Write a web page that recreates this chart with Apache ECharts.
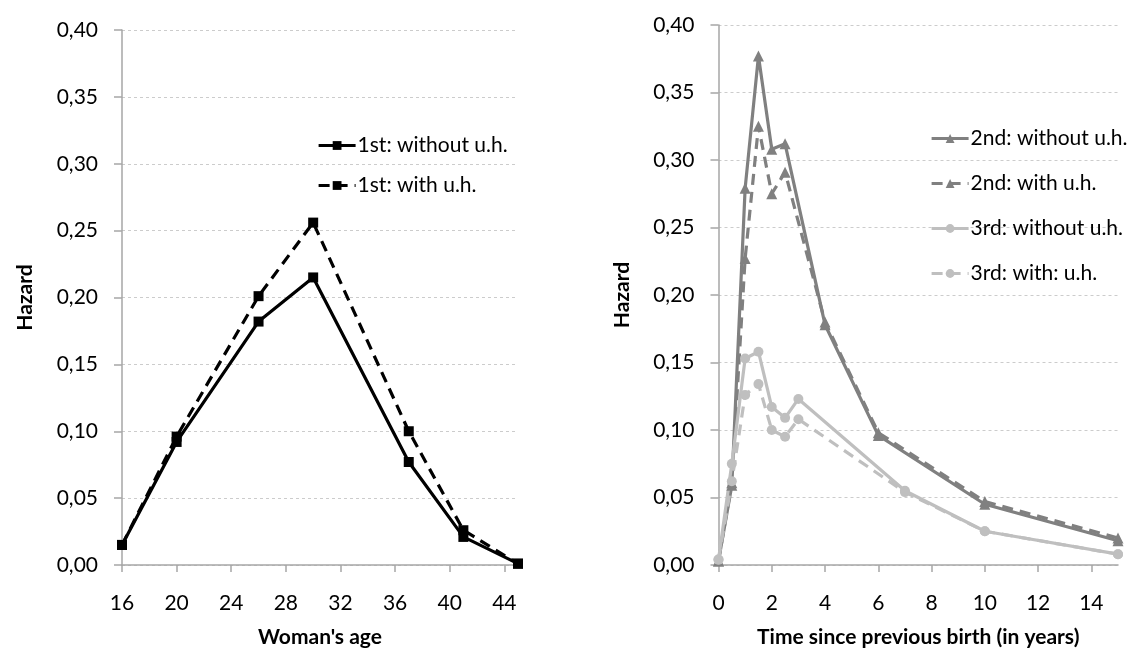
<!DOCTYPE html>
<html>
<head>
<meta charset="utf-8">
<script src="https://cdn.jsdelivr.net/npm/echarts@6/dist/echarts.min.js"></script>
<style>
  html, body { margin: 0; padding: 0; background: #fff; }
  #chart { width: 1133px; height: 653px; }
</style>
</head>
<body>
<div id="chart"></div>
<script>
// left panel: first birth by woman's age
const ageX = [16, 20, 26, 30, 37, 41, 45];
const firstWithout = [0.015, 0.092, 0.182, 0.215, 0.077, 0.021, 0.001];
const firstWith = [0.015, 0.096, 0.201, 0.256, 0.100, 0.026, 0.001];
const ageTicks = [16, 20, 24, 28, 32, 36, 40, 44];

// right panel: higher order births by time since previous birth
const secondX = [0, 0.5, 1, 1.5, 2, 2.5, 4, 6, 10, 15];
const secondWithout = [0.003, 0.059, 0.279, 0.377, 0.308, 0.312, 0.178, 0.096, 0.045, 0.018];
const secondWith = [0.003, 0.061, 0.227, 0.325, 0.275, 0.291, 0.180, 0.098, 0.047, 0.020];
const thirdX = [0, 0.5, 1, 1.5, 2, 2.5, 3, 7, 10, 15];
const thirdWithout = [0.004, 0.075, 0.153, 0.158, 0.117, 0.109, 0.123, 0.055, 0.025, 0.008];
const thirdWith = [0.004, 0.062, 0.126, 0.134, 0.100, 0.095, 0.108, 0.054, 0.025, 0.008];
const timeTicks = [0, 2, 4, 6, 8, 10, 12, 14];

const names = ['1st: without u.h.', '1st: with u.h.', '2nd: without u.h.', '2nd: with u.h.',
    '3rd: without u.h.', '3rd: with: u.h.'];

const font = 'Lato, "Open Sans", sans-serif';
const axisColor = '#a6a6a6';
const gridColor = '#cccccc';

const pairs = (xs, ys) => xs.map((x, i) => [x, ys[i]]);

function xAxis(idx, min, max, ticks, title) {
    return {
        type: 'value', gridIndex: idx, min: min, max: max,
        name: title, nameLocation: 'middle', nameGap: 62,
        nameTextStyle: {fontFamily: font, fontSize: 21, fontWeight: 'bold', color: '#000'},
        axisLine: {show: true, lineStyle: {color: axisColor, width: 1.5}},
        axisTick: {show: true, length: 7, customValues: ticks, lineStyle: {color: axisColor, width: 1.5}},
        axisLabel: {customValues: ticks, margin: 28, fontFamily: font, fontSize: 21, color: '#000'},
        splitLine: {show: false}
    };
}

function yAxis(idx) {
    return {
        type: 'value', gridIndex: idx, min: 0, max: 0.4, interval: 0.05,
        name: 'Hazard', nameLocation: 'middle', nameGap: 86, nameRotate: 90,
        nameTextStyle: {fontFamily: font, fontSize: 21, fontWeight: 'bold', color: '#000'},
        axisLine: {show: true, lineStyle: {color: axisColor, width: 1.5}},
        axisTick: {show: true, length: 8, lineStyle: {color: axisColor, width: 1.5}},
        axisLabel: {
            margin: 24, fontFamily: font, fontSize: 21, color: '#000',
            formatter: v => v.toFixed(2).replace('.', ',')
        },
        splitLine: {show: true, lineStyle: {color: gridColor, type: [3, 3], width: 1}}
    };
}

function line(name, idx, data, color, dashed, symbol, size) {
    return {
        name: name, type: 'line', xAxisIndex: idx, yAxisIndex: idx,
        data: data, symbol: symbol, symbolSize: size, showSymbol: true,
        lineStyle: {color: color, width: 3.2, type: dashed ? [11, 7] : 'solid'},
        itemStyle: {color: color},
        emphasis: {disabled: true},
        animation: false
    };
}

const legendText = {fontFamily: font, fontSize: 21, color: '#000', padding: [0, 0, 0, -3]};

const option = {
    backgroundColor: '#fff',
    animation: false,
    grid: [
        {left: 122, top: 30, width: 396, bottom: 87},
        {left: 718.5, top: 25, width: 399.5, bottom: 87}
    ],
    xAxis: [
        xAxis(0, 16, 45, ageTicks, "Woman's age"),
        xAxis(1, 0, 15, timeTicks, 'Time since previous birth (in years)')
    ],
    yAxis: [yAxis(0), yAxis(1)],
    legend: [
        {
            data: names.slice(0, 2), orient: 'vertical', left: 312, top: 130,
            itemWidth: 37, itemHeight: 11, itemGap: 19, textStyle: legendText,
            lineStyle: {width: 3.2}
        },
        {
            data: names.slice(2), orient: 'vertical', left: 925, top: 123,
            itemWidth: 37, itemHeight: 11, itemGap: 24, textStyle: legendText,
            lineStyle: {width: 3.2}
        }
    ],
    series: [
        line(names[0], 0, pairs(ageX, firstWithout), '#000000', false, 'rect', 10),
        line(names[1], 0, pairs(ageX, firstWith), '#000000', true, 'rect', 10),
        line(names[2], 1, pairs(secondX, secondWithout), '#808080', false, 'triangle', 11),
        line(names[3], 1, pairs(secondX, secondWith), '#808080', true, 'triangle', 11),
        line(names[4], 1, pairs(thirdX, thirdWithout), '#bfbfbf', false, 'circle', 10),
        line(names[5], 1, pairs(thirdX, thirdWith), '#bfbfbf', true, 'circle', 10)
    ]
};

const chart = echarts.init(document.getElementById('chart'));
chart.setOption(option);
</script>
</body>
</html>
